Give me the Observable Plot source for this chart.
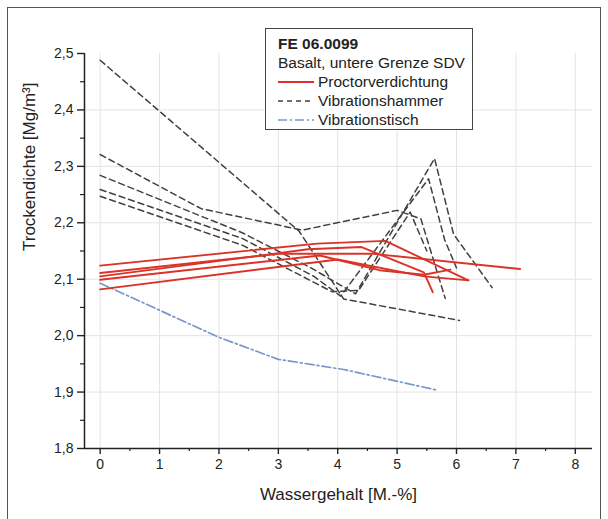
<!DOCTYPE html>
<html><head><meta charset="utf-8">
<script src="https://cdn.jsdelivr.net/npm/d3@7"></script>
<script src="https://cdn.jsdelivr.net/npm/@observablehq/plot@0.6"></script>
<style>
body{margin:0;background:#fff;}
#wrap{position:relative;width:608px;height:519px;overflow:hidden;font-family:"Liberation Sans",Arial,sans-serif;}
#frame{position:absolute;left:7px;top:7px;width:592px;height:540px;border:1.5px solid #555;pointer-events:none;}
#legend{position:absolute;left:265px;top:28px;width:208px;height:102px;border:1.5px solid #444;background:#fff;font-size:15.5px;color:#222;line-height:19px;padding:5px 0 0 12px;box-sizing:border-box;}
#legend .row{display:flex;align-items:center;white-space:nowrap;}
#legend svg{margin-right:4px;}
</style></head>
<body><div id="wrap"><div id="chart"></div><div id="frame"></div><div id="legend"></div></div>
<script>
// Proctorverdichtung (red, solid)
const p1 = [[0,2.124],[3.65,2.163],[4.8,2.168],[6.2,2.098]];
const p2 = [[0,2.111],[3.0,2.145],[4.6,2.145],[7.07,2.118]];
const p3 = [[0,2.105],[3.5,2.153],[4.4,2.157],[5.45,2.112],[5.6,2.077]];
const p4 = [[0,2.099],[3.7,2.142],[4.7,2.116],[5.45,2.108],[5.9,2.117]];
const p5 = [[0,2.082],[4.0,2.135],[5.45,2.105],[6.2,2.098]];
// Vibrationshammer (dark dashed)
const v1 = [[0,2.488],[3.35,2.185],[4.1,2.065],[6.05,2.027]];
const v2 = [[0,2.321],[1.7,2.225],[3.4,2.187],[5.0,2.222],[5.4,2.207],[5.81,2.066]];
const v3 = [[0,2.284],[2.4,2.182],[3.55,2.12],[4.3,2.074],[5.63,2.314],[5.95,2.18],[6.6,2.085]];
const v4 = [[0,2.259],[2.4,2.172],[3.6,2.105],[4.05,2.07],[5.53,2.278],[5.8,2.17],[6.0,2.12]];
const v5 = [[0,2.247],[2.4,2.16],[3.9,2.078],[4.35,2.08],[5.22,2.219],[5.5,2.15]];
// Vibrationstisch (blue dash-dot)
const t1 = [[0,2.093],[2.0,1.997],[3.0,1.958],[4.1,1.94],[5.65,1.904]];

const xTicks = [0,1,2,3,4,5,6,7,8];
const xMinor = [0.5,1.5,2.5,3.5,4.5,5.5,6.5,7.5];
const yTicks = [1.8,1.9,2.0,2.1,2.2,2.3,2.4,2.5];
const yMinor = [1.85,1.95,2.05,2.15,2.25,2.35,2.45];
const yGrid = [1.9,2.0,2.1,2.2,2.3,2.4];

const seriesNames = ["Proctorverdichtung","Vibrationshammer","Vibrationstisch"];
const legendTitle = "FE 06.0099";
const legendSub = "Basalt, untere Grenze SDV";
const xTitle = "Wassergehalt [M.-%]";
const yTitle = "Trockendichte [Mg/m³]";

function rows(arr, id){ return arr.map(([x,y]) => ({id, x, y})); }
const proctor = [p1,p2,p3,p4,p5].flatMap((a,i)=>rows(a,"p"+i));
const hammer = [v1,v2,v3,v4,v5].flatMap((a,i)=>rows(a,"v"+i));
const tisch = rows(t1,"t");

const red = "#da3328", dark = "#404040", blue = "#7896cc";
const fmt = d => d.toFixed(1).replace(".", ",");

const chart = Plot.plot({
  width: 608, height: 519,
  marginLeft: 84, marginRight: 16, marginTop: 53, marginBottom: 71,
  x: {domain: [-0.264, 8.29]},
  y: {domain: [1.8, 2.5]},
  style: {fontFamily: '"Liberation Sans", Arial, sans-serif', fontSize: "14px", color: "#222", background: "transparent"},
  marks: [
    Plot.gridX(xTicks, {stroke: "#e4e4e4", strokeOpacity: 1}),
    Plot.gridY(yGrid, {stroke: "#e4e4e4", strokeOpacity: 1}),
    Plot.line(tisch, {x: "x", y: "y", z: "id", stroke: blue, strokeWidth: 1.7, strokeDasharray: "9,3,2,3"}),
    Plot.line(hammer, {x: "x", y: "y", z: "id", stroke: dark, strokeWidth: 1.5, strokeDasharray: "6,4"}),
    Plot.line(proctor, {x: "x", y: "y", z: "id", stroke: red, strokeWidth: 1.9}),
    Plot.axisX(xTicks, {tickSize: 6, tickPadding: 5, label: null, stroke: "#222", strokeWidth: 1.4}),
    Plot.axisX(xMinor, {tickSize: 3, tickFormat: () => "", label: null, stroke: "#222", strokeWidth: 1.2}),
    Plot.axisY(yTicks, {tickSize: 7, tickPadding: 4, tickFormat: fmt, label: null, stroke: "#222", strokeWidth: 1.4}),
    Plot.axisY(yMinor, {tickSize: 4, tickFormat: () => "", label: null, stroke: "#222", strokeWidth: 1.2}),
    Plot.ruleY([1.8], {stroke: "#222", strokeWidth: 1.5}),
    Plot.ruleX([-0.264], {stroke: "#222", strokeWidth: 1.5}),
    Plot.text([xTitle], {frameAnchor: "bottom", dy: 51, fontSize: 17, fill: "#222"}),
    Plot.text([yTitle], {frameAnchor: "left", rotate: -90, dx: -55, fontSize: 17, fill: "#222"})
  ]
});
document.getElementById("chart").appendChild(chart);

// legend
const lg = document.getElementById("legend");
function sample(stroke, dash, w){
  return `<svg width="36" height="10"><line x1="0" y1="5" x2="36" y2="5" stroke="${stroke}" stroke-width="${w}" ${dash ? `stroke-dasharray="${dash}"` : ""}/></svg>`;
}
lg.innerHTML =
  `<div class="row" style="font-weight:bold">${legendTitle}</div>` +
  `<div class="row">${legendSub}</div>` +
  `<div class="row">${sample(red, null, 2)}${seriesNames[0]}</div>` +
  `<div class="row">${sample(dark, "5,4", 1.5)}${seriesNames[1]}</div>` +
  `<div class="row">${sample(blue, "9,3,2,3", 1.6)}${seriesNames[2]}</div>`;
</script></body></html>
